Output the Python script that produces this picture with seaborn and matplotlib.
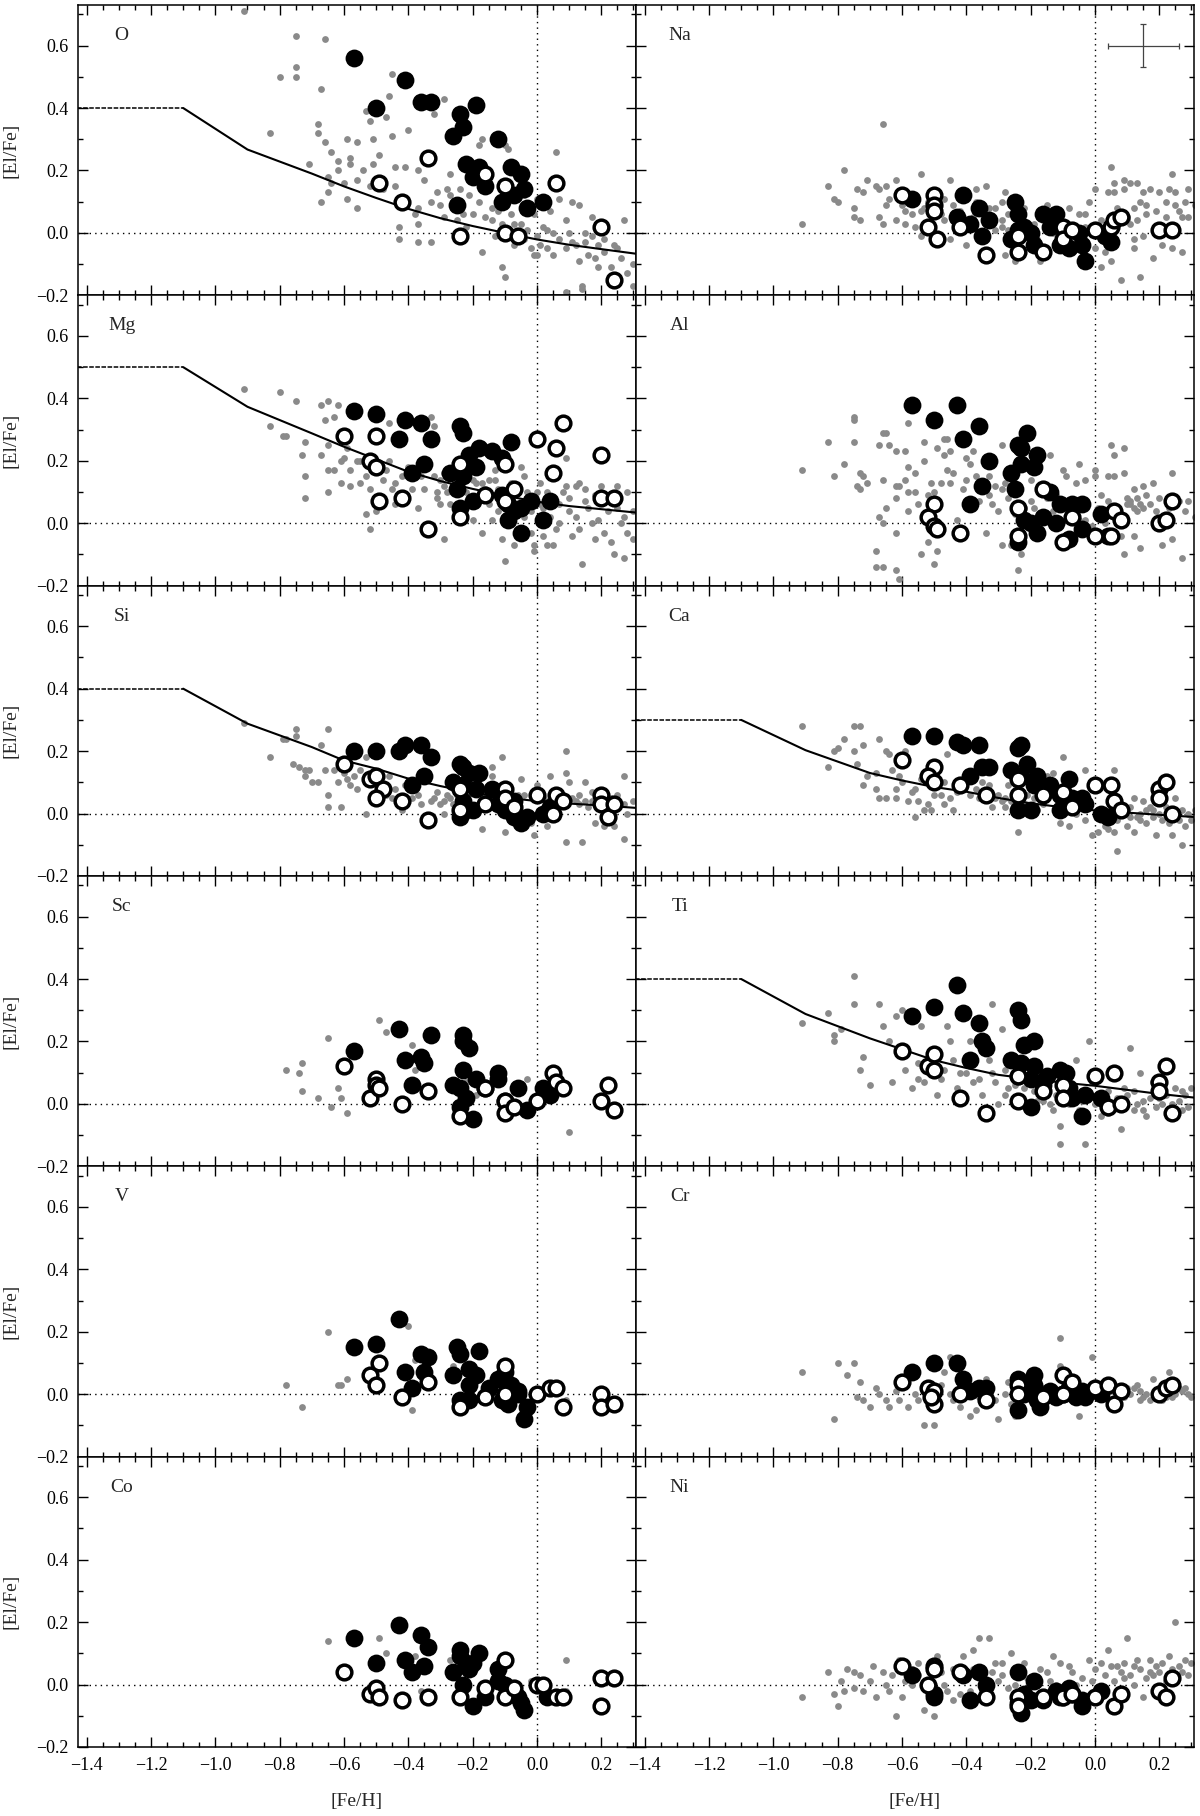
import matplotlib

matplotlib.use("Agg")

import matplotlib.pyplot as plt
import pandas as pd
import seaborn as sns
from matplotlib.ticker import FuncFormatter, MultipleLocator


# model curves (flat plateau up to [Fe/H] = -1.1, then declining)
MODEL_FEH = [-1.43, -1.1, -0.9, -0.7, -0.6, -0.5, -0.4, -0.3, -0.2, -0.1, 0.0, 0.1, 0.2, 0.31]
MODEL_O = [0.40, 0.40, 0.267, 0.19, 0.149, 0.112, 0.077, 0.047, 0.022, 0.0, -0.021, -0.038, -0.052, -0.067]
MODEL_MG = [0.50, 0.50, 0.373, 0.288, 0.245, 0.205, 0.165, 0.135, 0.11, 0.088, 0.069, 0.055, 0.045, 0.034]
MODEL_SI = [0.40, 0.40, 0.288, 0.213, 0.17, 0.144, 0.112, 0.088, 0.067, 0.051, 0.04, 0.032, 0.026, 0.018]
MODEL_CA = [0.30, 0.30, 0.203, 0.13, 0.106, 0.085, 0.07, 0.05, 0.033, 0.02, 0.01, 0.003, -0.004, -0.011]
MODEL_TI = [0.40, 0.40, 0.288, 0.21, 0.175, 0.14, 0.115, 0.093, 0.08, 0.068, 0.058, 0.045, 0.032, 0.02]

# typical error bar shown in the Na panel
ERR_FEH = 0.15
ERR_EL = 0.60
ERR_DFEH = 0.11
ERR_DEL = 0.07

# ---------------- O ----------------
O_FILLED = [(-0.57, 0.56), (-0.41, 0.49), (-0.50, 0.40), (-0.36, 0.42), (-0.33, 0.42), (-0.19, 0.41),
            (-0.24, 0.38), (-0.23, 0.34), (-0.26, 0.31), (-0.12, 0.30), (-0.22, 0.22), (-0.18, 0.21),
            (-0.20, 0.18), (-0.16, 0.15), (-0.08, 0.21), (-0.05, 0.19), (-0.04, 0.14), (-0.07, 0.12),
            (-0.11, 0.10), (-0.25, 0.09), (-0.03, 0.08), (0.02, 0.10)]
O_OPEN = [(-0.34, 0.24), (-0.49, 0.16), (-0.42, 0.10), (-0.16, 0.19), (-0.10, 0.15), (0.06, 0.16),
          (-0.24, -0.01), (-0.10, 0.00), (-0.06, -0.01), (0.20, 0.02), (0.24, -0.15)]
O_REF = [(-0.91, 0.71), (-0.75, 0.63), (-0.75, 0.53), (-0.75, 0.50), (-0.80, 0.50), (-0.66, 0.62),
         (-0.67, 0.46), (-0.83, 0.32), (-0.68, 0.35), (-0.68, 0.32), (-0.66, 0.29), (-0.71, 0.22),
         (-0.64, 0.26), (-0.62, 0.23), (-0.62, 0.20), (-0.58, 0.24), (-0.58, 0.22), (-0.59, 0.30),
         (-0.56, 0.29), (-0.51, 0.30), (-0.53, 0.39), (-0.52, 0.36), (-0.47, 0.37), (-0.46, 0.44),
         (-0.45, 0.51), (-0.40, 0.33), (-0.45, 0.31), (-0.49, 0.25), (-0.51, 0.22), (-0.54, 0.20),
         (-0.56, 0.17), (-0.60, 0.16), (-0.64, 0.16), (-0.65, 0.18), (-0.67, 0.10), (-0.65, 0.13),
         (-0.59, 0.11), (-0.56, 0.08), (-0.52, 0.15), (-0.48, 0.14), (-0.44, 0.15), (-0.44, 0.21),
         (-0.41, 0.21), (-0.37, 0.20), (-0.35, 0.17), (-0.37, 0.08), (-0.38, 0.06), (-0.37, 0.03),
         (-0.43, 0.02), (-0.43, -0.02), (-0.37, -0.03), (-0.33, -0.03), (-0.32, 0.38), (-0.29, 0.43),
         (-0.31, 0.13), (-0.30, 0.09), (-0.28, 0.14), (-0.27, 0.19), (-0.27, 0.12), (-0.25, 0.04),
         (-0.24, 0.14), (-0.23, 0.06), (-0.21, 0.12), (-0.20, 0.06), (-0.18, 0.10), (-0.18, 0.28),
         (-0.17, 0.30), (-0.14, 0.08), (-0.14, 0.04), (-0.13, -0.01), (-0.11, 0.03), (-0.10, 0.28),
         (-0.09, 0.27), (-0.07, 0.03), (-0.07, -0.04), (-0.05, 0.16), (-0.04, -0.02), (-0.03, 0.01),
         (-0.02, -0.05), (-0.01, -0.07), (0.00, -0.01), (0.00, -0.07), (0.01, -0.04), (0.02, 0.02),
         (0.03, -0.05), (0.04, 0.07), (0.05, -0.07), (0.05, 0.00), (0.06, 0.26), (0.07, 0.11),
         (0.09, 0.04), (0.09, -0.05), (0.10, 0.00), (0.11, 0.10), (0.12, -0.04), (0.13, 0.09),
         (0.13, -0.09), (0.14, -0.17), (0.15, -0.03), (0.16, -0.07), (0.17, 0.05), (0.17, -0.01),
         (0.19, -0.11), (0.19, -0.04), (0.21, -0.06), (0.23, -0.11), (0.24, -0.04), (0.25, -0.05),
         (0.27, 0.04), (0.28, -0.13), (0.30, -0.10), (0.30, -0.17), (-0.11, -0.11), (-0.10, -0.14),
         (-0.17, -0.06), (-0.01, 0.06), (0.00, 0.11), (-0.02, 0.07), (-0.04, 0.12), (0.09, -0.19),
         (0.14, -0.18), (-0.26, 0.08), (-0.22, 0.02), (-0.16, 0.05), (-0.12, 0.07), (-0.08, 0.06),
         (-0.05, 0.03), (0.03, 0.01), (0.07, -0.02), (0.11, -0.03), (0.15, 0.00), (0.18, -0.08),
         (0.21, -0.02), (0.26, -0.08), (-0.33, 0.10), (-0.29, 0.05)]

# ---------------- Na ----------------
NA_FILLED = [(-0.57, 0.11), (-0.41, 0.12), (-0.43, 0.05), (-0.39, 0.03), (-0.36, 0.08), (-0.33, 0.04),
             (-0.35, -0.01), (-0.25, 0.10), (-0.24, 0.06), (-0.26, -0.02), (-0.22, 0.02), (-0.20, 0.00),
             (-0.19, -0.04), (-0.16, 0.06), (-0.12, 0.06), (-0.14, 0.02), (-0.11, -0.04), (-0.08, -0.05),
             (-0.05, 0.00), (-0.04, -0.04), (-0.03, -0.09), (0.03, -0.01), (0.05, -0.03), (-0.24, 0.01)]
NA_OPEN = [(-0.60, 0.12), (-0.50, 0.12), (-0.50, 0.09), (-0.50, 0.07), (-0.52, 0.02), (-0.49, -0.02),
           (-0.42, 0.02), (-0.34, -0.07), (-0.24, -0.01), (-0.24, -0.06), (-0.16, -0.06), (-0.10, 0.02),
           (-0.10, -0.02), (-0.07, 0.01), (0.00, 0.01), (0.05, 0.02), (0.06, 0.04), (0.08, 0.05),
           (0.20, 0.01), (0.24, 0.01)]
NA_REF = [(-0.66, 0.35), (-0.91, 0.03), (-0.83, 0.15), (-0.81, 0.11), (-0.80, 0.10), (-0.78, 0.20),
          (-0.75, 0.08), (-0.75, 0.05), (-0.74, 0.14), (-0.72, 0.13), (-0.73, 0.04), (-0.71, 0.17),
          (-0.68, 0.15), (-0.67, 0.14), (-0.65, 0.15), (-0.67, 0.05), (-0.66, 0.03), (-0.65, 0.09),
          (-0.62, 0.17), (-0.62, 0.04), (-0.59, 0.07), (-0.59, 0.03), (-0.56, 0.02), (-0.54, 0.19),
          (-0.54, 0.07), (-0.54, -0.01), (-0.53, 0.08), (-0.47, 0.11), (-0.47, 0.04), (-0.45, 0.17),
          (-0.45, -0.02), (-0.44, 0.09), (-0.40, -0.04), (-0.37, 0.14), (-0.34, 0.15), (-0.37, 0.10),
          (-0.31, 0.08), (-0.31, 0.01), (-0.29, 0.10), (-0.29, 0.04), (-0.28, 0.13), (-0.28, -0.07),
          (-0.25, -0.09), (-0.22, 0.08), (-0.18, -0.02), (-0.17, -0.09), (-0.15, 0.09), (-0.13, 0.00),
          (-0.10, -0.04), (-0.08, 0.08), (-0.06, 0.01), (-0.05, 0.06), (-0.03, 0.06), (-0.02, 0.10),
          (-0.01, 0.00), (0.00, 0.14), (0.00, -0.05), (0.02, -0.11), (0.03, -0.06), (0.04, 0.13),
          (0.05, 0.21), (0.05, -0.09), (0.06, 0.16), (0.06, 0.13), (0.08, -0.15), (0.09, 0.17),
          (0.09, 0.14), (0.10, 0.05), (0.11, 0.16), (0.12, -0.02), (0.12, -0.05), (0.13, 0.16),
          (0.14, -0.14), (0.14, 0.10), (0.15, 0.13), (0.15, -0.01), (0.16, 0.06), (0.17, 0.14),
          (0.18, -0.08), (0.20, 0.13), (0.21, -0.04), (0.22, 0.10), (0.23, 0.14), (0.24, 0.19),
          (0.24, -0.05), (0.25, 0.09), (0.25, 0.13), (0.27, -0.06), (0.27, 0.05), (0.28, 0.10),
          (0.29, 0.14), (0.31, 0.09), (-0.32, 0.05), (-0.29, 0.02), (-0.27, 0.01), (-0.32, 0.03),
          (0.09, 0.06), (0.10, 0.04), (0.11, 0.03), (0.13, 0.04), (-0.64, 0.11), (-0.60, 0.09),
          (-0.57, 0.06), (-0.52, 0.10), (-0.48, 0.06), (-0.42, 0.07), (-0.38, 0.05), (-0.33, 0.08),
          (-0.27, 0.06), (-0.23, 0.04), (-0.19, 0.03), (-0.15, 0.02), (-0.12, 0.03), (-0.08, 0.02),
          (-0.03, 0.02), (0.02, 0.04), (0.07, 0.08), (0.12, 0.08), (0.16, 0.09), (0.19, 0.07),
          (0.22, 0.05), (0.26, 0.07), (0.29, 0.05)]

# ---------------- Mg ----------------
MG_FILLED = [(-0.57, 0.36), (-0.50, 0.35), (-0.41, 0.33), (-0.36, 0.32), (-0.43, 0.27), (-0.33, 0.27),
             (-0.35, 0.19), (-0.39, 0.16), (-0.24, 0.31), (-0.23, 0.29), (-0.21, 0.22), (-0.18, 0.24),
             (-0.14, 0.23), (-0.11, 0.21), (-0.19, 0.18), (-0.27, 0.16), (-0.23, 0.15), (-0.25, 0.11),
             (-0.24, 0.05), (-0.20, 0.07), (-0.08, 0.26), (-0.11, 0.09), (-0.09, 0.06), (-0.09, 0.01),
             (-0.05, 0.05), (-0.02, 0.07), (-0.05, -0.03), (0.02, 0.01), (0.04, 0.07), (-0.07, 0.04)]
MG_OPEN = [(-0.60, 0.28), (-0.50, 0.28), (-0.52, 0.20), (-0.50, 0.18), (-0.49, 0.07), (-0.42, 0.08),
           (-0.34, -0.02), (-0.24, 0.19), (-0.24, 0.02), (-0.16, 0.09), (-0.10, 0.19), (-0.10, 0.07),
           (-0.07, 0.11), (0.00, 0.27), (0.06, 0.24), (0.08, 0.32), (0.05, 0.16), (0.20, 0.22),
           (0.20, 0.08), (0.24, 0.08)]
MG_REF = [(-0.91, 0.43), (-0.80, 0.42), (-0.83, 0.31), (-0.79, 0.28), (-0.78, 0.28), (-0.75, 0.39),
          (-0.72, 0.26), (-0.73, 0.22), (-0.72, 0.15), (-0.72, 0.08), (-0.67, 0.38), (-0.65, 0.39),
          (-0.62, 0.38), (-0.63, 0.34), (-0.66, 0.33), (-0.67, 0.22), (-0.65, 0.25), (-0.65, 0.17),
          (-0.65, 0.10), (-0.61, 0.13), (-0.61, 0.20), (-0.59, 0.24), (-0.58, 0.17), (-0.58, 0.12),
          (-0.56, 0.20), (-0.55, 0.13), (-0.53, 0.15), (-0.53, 0.03), (-0.52, -0.02), (-0.50, 0.04),
          (-0.48, 0.14), (-0.46, 0.32), (-0.46, 0.20), (-0.45, 0.11), (-0.44, 0.06), (-0.42, 0.15),
          (-0.39, 0.11), (-0.37, 0.05), (-0.36, 0.15), (-0.35, 0.11), (-0.33, 0.34), (-0.32, 0.15),
          (-0.32, 0.31), (-0.31, 0.08), (-0.29, 0.16), (-0.29, -0.05), (-0.28, 0.10), (-0.27, 0.06),
          (-0.20, 0.14), (-0.20, 0.01), (-0.17, 0.13), (-0.17, -0.03), (-0.14, 0.01), (-0.13, 0.14),
          (-0.13, 0.17), (-0.11, -0.05), (-0.10, -0.12), (-0.07, -0.07), (-0.05, 0.18), (-0.04, 0.15),
          (-0.04, 0.02), (-0.02, -0.03), (-0.01, -0.07), (-0.01, -0.09), (0.00, 0.10), (0.01, 0.13),
          (0.02, -0.04), (0.03, -0.07), (0.05, -0.07), (0.07, 0.00), (0.08, 0.10), (0.09, 0.21),
          (0.09, 0.12), (0.10, 0.04), (0.11, -0.04), (0.12, 0.02), (0.13, 0.13), (0.13, -0.02),
          (0.14, -0.13), (0.15, 0.11), (0.16, 0.05), (0.17, 0.00), (0.18, -0.05), (0.19, 0.01),
          (0.21, -0.03), (0.22, 0.04), (0.23, -0.06), (0.24, -0.10), (0.25, 0.12), (0.26, 0.00),
          (0.27, -0.11), (0.28, 0.10), (0.28, -0.03), (0.30, -0.05), (0.30, 0.04), (-0.30, 0.14),
          (-0.29, 0.12), (-0.27, 0.15), (-0.16, 0.11), (-0.15, 0.06), (-0.12, 0.04), (0.02, 0.05),
          (0.04, 0.02), (0.06, -0.02), (-0.31, 0.10), (-0.30, 0.06), (-0.26, 0.12), (-0.22, 0.10),
          (-0.19, 0.13), (-0.17, 0.08), (-0.15, 0.14), (-0.12, 0.11), (-0.08, 0.13), (-0.06, 0.10),
          (-0.03, 0.10), (-0.02, 0.04), (0.01, 0.06), (0.03, 0.10), (0.07, 0.06), (0.10, 0.08),
          (0.12, 0.12), (0.15, 0.07), (0.18, 0.09), (0.20, 0.12), (0.22, 0.09), (0.25, 0.05),
          (0.27, 0.02), (-0.44, 0.13), (-0.40, 0.18), (-0.47, 0.17), (-0.55, 0.20), (-0.60, 0.21),
          (-0.63, 0.17), (-0.52, 0.11), (-0.48, 0.08)]

# ---------------- Al ----------------
AL_FILLED = [(-0.57, 0.38), (-0.43, 0.38), (-0.50, 0.33), (-0.36, 0.31), (-0.41, 0.27), (-0.21, 0.29),
             (-0.24, 0.25), (-0.23, 0.24), (-0.18, 0.22), (-0.33, 0.20), (-0.23, 0.19), (-0.19, 0.18),
             (-0.26, 0.16), (-0.35, 0.12), (-0.25, 0.11), (-0.39, 0.06), (-0.14, 0.10), (-0.11, 0.06),
             (-0.07, 0.06), (-0.04, 0.06), (-0.16, 0.02), (-0.22, 0.01), (-0.20, 0.00), (-0.12, 0.00),
             (-0.18, -0.03), (-0.04, -0.02), (-0.24, -0.06), (-0.08, -0.05), (0.02, 0.03), (0.04, -0.04)]
AL_OPEN = [(-0.50, 0.06), (-0.52, 0.02), (-0.50, -0.01), (-0.49, -0.02), (-0.42, -0.03), (-0.24, 0.05),
           (-0.24, -0.04), (-0.16, 0.11), (-0.07, 0.02), (-0.10, -0.06), (0.00, -0.04), (0.05, -0.04),
           (0.06, 0.04), (0.08, 0.01), (0.20, 0.00), (0.22, 0.01), (0.24, 0.07)]
AL_REF = [(-0.91, 0.17), (-0.83, 0.26), (-0.81, 0.15), (-0.78, 0.19), (-0.75, 0.34), (-0.75, 0.33),
          (-0.75, 0.26), (-0.74, 0.12), (-0.73, 0.16), (-0.72, 0.15), (-0.71, 0.13), (-0.73, 0.11),
          (-0.68, -0.09), (-0.68, -0.14), (-0.66, -0.14), (-0.67, 0.02), (-0.67, 0.25), (-0.66, 0.29),
          (-0.65, 0.29), (-0.64, 0.25), (-0.66, 0.14), (-0.65, 0.05), (-0.66, 0.00), (-0.62, 0.23),
          (-0.62, 0.12), (-0.62, 0.08), (-0.61, 0.12), (-0.62, -0.03), (-0.62, -0.15), (-0.61, -0.18),
          (-0.59, 0.23), (-0.58, 0.32), (-0.58, 0.18), (-0.59, 0.14), (-0.58, 0.10), (-0.56, 0.10),
          (-0.56, 0.16), (-0.54, -0.10), (-0.53, 0.20), (-0.53, 0.26), (-0.52, -0.06), (-0.51, 0.13),
          (-0.50, 0.10), (-0.50, -0.13), (-0.49, -0.09), (-0.49, 0.24), (-0.48, 0.13), (-0.47, 0.27),
          (-0.47, 0.22), (-0.46, 0.27), (-0.46, 0.17), (-0.45, 0.13), (-0.45, 0.23), (-0.43, 0.01),
          (-0.41, 0.11), (-0.40, 0.21), (-0.39, 0.19), (-0.38, 0.23), (-0.37, 0.15), (-0.36, 0.07),
          (-0.34, -0.03), (-0.33, 0.15), (-0.32, 0.06), (-0.30, 0.04), (-0.29, 0.25), (-0.29, 0.11),
          (-0.29, -0.07), (-0.28, 0.13), (-0.26, -0.07), (-0.24, -0.15), (-0.23, -0.10), (-0.22, 0.05),
          (-0.20, 0.14), (-0.20, 0.07), (-0.17, 0.03), (-0.14, 0.22), (-0.13, 0.04), (-0.10, 0.17),
          (-0.09, 0.15), (-0.06, 0.13), (-0.05, 0.19), (-0.04, 0.00), (-0.03, 0.14), (-0.02, -0.02),
          (0.00, 0.17), (0.00, 0.15), (0.02, 0.09), (0.03, 0.00), (0.04, 0.15), (0.05, 0.25),
          (0.06, 0.22), (0.06, 0.15), (0.08, 0.00), (0.08, -0.04), (0.09, 0.24), (0.09, 0.16),
          (0.09, -0.10), (0.10, 0.08), (0.11, 0.06), (0.12, 0.11), (0.12, -0.04), (0.13, 0.04),
          (0.14, -0.08), (0.15, 0.12), (0.16, 0.09), (0.18, 0.13), (0.19, 0.04), (0.21, -0.07),
          (0.22, 0.00), (0.24, 0.16), (0.24, -0.05), (0.26, 0.07), (0.27, -0.11), (0.29, 0.07),
          (0.31, 0.02), (0.10, 0.06), (0.11, 0.07), (0.12, 0.05), (0.14, 0.06), (0.15, 0.05),
          (-0.05, 0.01), (-0.03, 0.01), (-0.01, -0.01), (-0.44, 0.16), (-0.40, 0.14), (-0.36, 0.11),
          (-0.33, 0.09), (-0.31, 0.12), (-0.27, 0.08), (-0.25, 0.03), (-0.19, 0.05), (-0.15, 0.08),
          (-0.12, 0.09), (-0.08, 0.03), (0.01, 0.05), (0.04, 0.07), (0.07, 0.05), (0.13, 0.08),
          (0.17, 0.06), (0.20, 0.08), (0.23, 0.05), (0.28, 0.04), (-0.55, 0.06), (-0.52, 0.09),
          (-0.58, 0.04)]

# ---------------- Si ----------------
SI_FILLED = [(-0.57, 0.20), (-0.50, 0.20), (-0.43, 0.20), (-0.41, 0.22), (-0.36, 0.22), (-0.33, 0.18),
             (-0.35, 0.12), (-0.39, 0.09), (-0.24, 0.16), (-0.23, 0.15), (-0.21, 0.13), (-0.18, 0.13),
             (-0.26, 0.10), (-0.23, 0.09), (-0.19, 0.08), (-0.14, 0.08), (-0.23, 0.04), (-0.24, -0.01),
             (-0.20, 0.01), (-0.12, 0.03), (-0.10, 0.01), (-0.07, 0.04), (-0.07, -0.01), (-0.05, -0.03),
             (-0.03, -0.01), (0.02, 0.00), (0.04, 0.02), (-0.22, 0.01)]
SI_OPEN = [(-0.60, 0.16), (-0.52, 0.11), (-0.50, 0.12), (-0.48, 0.08), (-0.50, 0.05), (-0.42, 0.04),
           (-0.34, -0.02), (-0.24, 0.08), (-0.24, 0.01), (-0.16, 0.03), (-0.10, 0.08), (-0.10, 0.05),
           (-0.07, 0.02), (0.00, 0.06), (0.06, 0.06), (0.08, 0.04), (0.05, 0.00), (0.20, 0.06),
           (0.20, 0.03), (0.22, -0.01), (0.24, 0.03)]
SI_REF = [(-0.91, 0.29), (-0.83, 0.18), (-0.79, 0.24), (-0.78, 0.24), (-0.75, 0.27), (-0.75, 0.25),
          (-0.74, 0.15), (-0.72, 0.14), (-0.72, 0.12), (-0.71, 0.14), (-0.68, 0.10), (-0.67, 0.22),
          (-0.66, 0.14), (-0.65, 0.27), (-0.65, 0.06), (-0.65, 0.02), (-0.63, 0.14), (-0.62, 0.10),
          (-0.61, 0.02), (-0.59, 0.11), (-0.58, 0.09), (-0.56, 0.08), (-0.55, 0.14), (-0.53, 0.18),
          (-0.53, 0.00), (-0.49, 0.21), (-0.47, 0.06), (-0.46, 0.12), (-0.44, 0.08), (-0.42, 0.01),
          (-0.39, 0.05), (-0.37, 0.06), (-0.34, 0.11), (-0.33, 0.04), (-0.31, 0.07), (-0.29, 0.04),
          (-0.29, 0.00), (-0.28, 0.06), (-0.17, -0.05), (-0.14, 0.15), (-0.14, 0.12), (-0.11, 0.18),
          (-0.10, -0.06), (-0.05, 0.11), (-0.04, 0.06), (-0.04, 0.00), (-0.02, -0.03), (-0.01, -0.07),
          (0.00, 0.09), (0.01, 0.00), (0.03, -0.04), (0.04, 0.12), (0.05, 0.07), (0.09, 0.20),
          (0.09, 0.13), (0.10, 0.10), (0.12, 0.04), (0.13, 0.06), (0.14, -0.09), (0.15, 0.10),
          (0.16, 0.02), (0.17, 0.04), (0.18, -0.03), (0.21, -0.04), (0.24, -0.04), (0.27, 0.12),
          (0.27, -0.08), (0.28, 0.00), (0.30, 0.04), (0.09, -0.09), (-0.32, 0.05), (-0.30, 0.03),
          (-0.27, 0.05), (-0.26, 0.03), (0.03, 0.04), (0.11, 0.05), (0.13, 0.03), (0.19, 0.06),
          (0.23, 0.05), (-0.50, 0.10), (-0.45, 0.05), (-0.41, 0.09), (-0.36, 0.03), (-0.25, 0.06),
          (-0.22, 0.04), (-0.19, 0.02), (-0.16, 0.06), (-0.13, 0.02), (-0.08, 0.03), (-0.06, 0.06),
          (0.02, 0.05), (0.06, 0.02), (0.08, 0.06), (0.15, 0.04), (0.17, 0.07), (0.20, 0.02),
          (0.25, 0.06), (0.27, 0.03), (-0.60, 0.13), (-0.57, 0.12), (-0.70, 0.10), (-0.76, 0.16)]

# ---------------- Ca ----------------
CA_FILLED = [(-0.57, 0.25), (-0.50, 0.25), (-0.43, 0.23), (-0.41, 0.22), (-0.36, 0.22), (-0.24, 0.21),
             (-0.23, 0.22), (-0.35, 0.15), (-0.33, 0.15), (-0.39, 0.12), (-0.26, 0.14), (-0.21, 0.16),
             (-0.23, 0.12), (-0.18, 0.12), (-0.19, 0.09), (-0.14, 0.09), (-0.08, 0.11), (-0.11, 0.06),
             (-0.04, 0.05), (-0.03, 0.03), (-0.24, 0.01), (-0.20, 0.01), (-0.11, 0.01), (0.02, 0.00),
             (0.04, -0.01), (-0.07, 0.05)]
CA_OPEN = [(-0.60, 0.17), (-0.50, 0.15), (-0.52, 0.12), (-0.50, 0.10), (-0.42, 0.09), (-0.34, 0.06),
           (-0.24, 0.11), (-0.24, 0.06), (-0.16, 0.06), (-0.10, 0.07), (-0.07, 0.02), (0.00, 0.09),
           (0.05, 0.09), (0.06, 0.04), (0.08, 0.01), (0.20, 0.08), (0.20, 0.05), (0.22, 0.10),
           (0.24, 0.00)]
CA_REF = [(-0.91, 0.28), (-0.83, 0.15), (-0.81, 0.20), (-0.80, 0.21), (-0.78, 0.24), (-0.75, 0.28),
          (-0.73, 0.28), (-0.75, 0.20), (-0.74, 0.16), (-0.72, 0.22), (-0.72, 0.09), (-0.71, 0.12),
          (-0.68, 0.13), (-0.68, 0.08), (-0.67, 0.24), (-0.67, 0.05), (-0.65, 0.05), (-0.65, 0.20),
          (-0.64, 0.19), (-0.63, 0.14), (-0.62, 0.05), (-0.62, 0.08), (-0.61, 0.12), (-0.59, 0.20),
          (-0.58, 0.04), (-0.56, 0.08), (-0.56, -0.01), (-0.55, 0.04), (-0.54, 0.11), (-0.53, 0.01),
          (-0.52, 0.03), (-0.51, 0.01), (-0.48, 0.06), (-0.47, 0.10), (-0.46, 0.19), (-0.45, 0.05),
          (-0.44, 0.01), (-0.41, 0.09), (-0.39, 0.06), (-0.37, 0.08), (-0.35, 0.10), (-0.33, 0.09),
          (-0.32, 0.02), (-0.30, 0.06), (-0.29, 0.04), (-0.28, 0.02), (-0.27, 0.09), (-0.24, -0.06),
          (-0.21, 0.06), (-0.18, 0.01), (-0.15, 0.12), (-0.13, 0.13), (-0.10, 0.18), (-0.11, -0.03),
          (-0.08, -0.04), (-0.06, 0.00), (-0.03, 0.14), (-0.03, -0.02), (-0.01, -0.07), (0.01, -0.06),
          (0.03, -0.04), (0.04, -0.05), (0.06, 0.14), (0.06, -0.06), (0.07, -0.12), (0.09, 0.00),
          (0.10, -0.04), (0.11, 0.02), (0.12, -0.06), (0.12, 0.05), (0.14, 0.00), (0.14, -0.02),
          (0.15, 0.04), (0.17, 0.02), (0.18, -0.01), (0.19, -0.07), (0.21, -0.02), (0.22, 0.02),
          (0.24, -0.07), (0.25, 0.05), (0.26, -0.02), (0.27, -0.10), (0.28, -0.04), (0.29, 0.00),
          (0.31, 0.01), (0.08, 0.02), (0.10, 0.01), (0.13, -0.01), (0.16, 0.01), (0.18, 0.01),
          (-0.31, 0.05), (-0.28, 0.05), (-0.26, 0.04), (-0.25, 0.03), (-0.60, 0.10), (-0.57, 0.07),
          (-0.50, 0.06), (-0.47, 0.03), (-0.43, 0.07), (-0.36, 0.05), (-0.34, 0.07), (-0.22, 0.03),
          (-0.19, 0.05), (-0.16, 0.03), (-0.13, 0.06), (-0.09, 0.02), (-0.05, 0.03), (0.02, 0.01),
          (0.05, 0.02), (0.07, -0.02), (0.11, -0.01), (0.16, -0.03), (0.20, 0.00), (0.23, -0.03),
          (0.27, 0.01), (0.30, -0.02)]

# ---------------- Sc ----------------
SC_FILLED = [(-0.57, 0.17), (-0.43, 0.24), (-0.41, 0.14), (-0.36, 0.15), (-0.35, 0.13), (-0.39, 0.06),
             (-0.33, 0.22), (-0.23, 0.22), (-0.23, 0.20), (-0.21, 0.18), (-0.23, 0.11), (-0.26, 0.06),
             (-0.24, 0.05), (-0.22, 0.02), (-0.24, -0.01), (-0.20, -0.05), (-0.19, 0.08), (-0.16, 0.05),
             (-0.12, 0.10), (-0.12, 0.08), (-0.06, 0.05), (-0.03, -0.02), (0.02, 0.05), (0.04, 0.03),
             (-0.10, 0.01)]
SC_OPEN = [(-0.60, 0.12), (-0.52, 0.02), (-0.50, 0.08), (-0.50, 0.06), (-0.49, 0.05), (-0.42, 0.00),
           (-0.34, 0.04), (-0.24, -0.04), (-0.16, 0.05), (-0.10, 0.01), (-0.10, -0.03), (-0.07, -0.01),
           (0.00, 0.01), (0.05, 0.10), (0.06, 0.07), (0.08, 0.05), (0.20, 0.01), (0.22, 0.06),
           (0.24, -0.02)]
SC_REF = [(-0.78, 0.11), (-0.74, 0.10), (-0.73, 0.13), (-0.73, 0.04), (-0.68, 0.02), (-0.65, 0.21),
          (-0.64, -0.01), (-0.62, 0.05), (-0.61, 0.02), (-0.59, -0.03), (-0.49, 0.27), (-0.47, 0.23),
          (-0.39, 0.19), (-0.38, 0.11), (-0.35, 0.05), (-0.03, 0.08), (0.10, -0.09), (-0.22, 0.07),
          (-0.19, 0.03)]

# ---------------- Ti ----------------
TI_FILLED = [(-0.57, 0.28), (-0.50, 0.31), (-0.43, 0.38), (-0.41, 0.29), (-0.36, 0.26), (-0.39, 0.14),
             (-0.35, 0.20), (-0.34, 0.18), (-0.24, 0.30), (-0.23, 0.27), (-0.19, 0.20), (-0.22, 0.19),
             (-0.26, 0.14), (-0.23, 0.13), (-0.19, 0.12), (-0.24, 0.09), (-0.20, 0.08), (-0.15, 0.09),
             (-0.11, 0.11), (-0.09, 0.10), (-0.16, 0.06), (-0.08, 0.05), (-0.20, -0.01), (-0.07, 0.02),
             (-0.04, -0.04), (-0.03, 0.03), (0.02, 0.02)]
TI_OPEN = [(-0.60, 0.17), (-0.52, 0.12), (-0.50, 0.16), (-0.50, 0.11), (-0.42, 0.02), (-0.34, -0.03),
           (-0.24, 0.09), (-0.24, 0.01), (-0.16, 0.04), (-0.10, 0.06), (-0.10, 0.02), (0.00, 0.09),
           (0.04, -0.01), (0.06, 0.10), (0.08, 0.00), (0.20, 0.07), (0.20, 0.04), (0.22, 0.12),
           (0.24, -0.03)]
TI_REF = [(-0.91, 0.26), (-0.83, 0.29), (-0.81, 0.22), (-0.81, 0.20), (-0.79, 0.24), (-0.75, 0.41),
          (-0.75, 0.32), (-0.73, 0.11), (-0.72, 0.15), (-0.70, 0.06), (-0.67, 0.32), (-0.66, 0.25),
          (-0.64, 0.20), (-0.63, 0.07), (-0.62, 0.28), (-0.60, 0.30), (-0.59, 0.11), (-0.57, 0.05),
          (-0.55, 0.13), (-0.54, 0.25), (-0.53, 0.07), (-0.49, 0.03), (-0.47, 0.11), (-0.46, 0.25),
          (-0.45, 0.20), (-0.43, 0.05), (-0.42, 0.10), (-0.39, 0.20), (-0.38, 0.07), (-0.35, 0.03),
          (-0.33, 0.14), (-0.32, 0.32), (-0.31, 0.07), (-0.30, 0.00), (-0.29, 0.24), (-0.28, 0.11),
          (-0.27, 0.05), (-0.24, 0.00), (-0.22, 0.05), (-0.18, 0.01), (-0.17, 0.08), (-0.14, 0.00),
          (-0.12, 0.03), (-0.11, -0.07), (-0.11, -0.13), (-0.08, 0.00), (-0.06, 0.14), (-0.05, -0.02),
          (-0.03, -0.13), (-0.02, 0.20), (-0.01, 0.07), (0.00, 0.00), (0.02, -0.04), (0.04, 0.04),
          (0.06, 0.00), (0.08, -0.08), (0.09, 0.05), (0.11, 0.18), (0.12, -0.02), (0.14, 0.10),
          (0.15, 0.01), (0.16, -0.04), (0.18, 0.07), (0.21, 0.00), (0.24, 0.00), (0.25, 0.05),
          (0.27, -0.02), (0.30, 0.05), (0.03, 0.02), (0.05, -0.02), (0.07, 0.02), (0.10, 0.03),
          (0.13, 0.00), (0.17, 0.02), (0.19, -0.01), (0.22, 0.03), (0.26, 0.01), (0.28, 0.03),
          (-0.15, 0.03), (-0.13, -0.02), (-0.09, 0.06), (-0.06, 0.03), (-0.55, 0.08), (-0.52, 0.15),
          (-0.48, 0.08), (-0.44, 0.14), (-0.40, 0.10), (-0.36, 0.08), (-0.32, 0.10), (-0.28, 0.03),
          (-0.25, 0.06), (-0.19, 0.04), (-0.16, 0.01), (-0.10, 0.02), (-0.04, 0.01), (0.01, 0.03),
          (0.04, -0.03), (0.08, 0.01), (0.12, 0.04), (0.15, -0.02), (0.20, 0.02), (0.23, -0.02),
          (0.27, 0.04), (0.29, -0.01)]

# ---------------- V ----------------
V_FILLED = [(-0.57, 0.15), (-0.50, 0.16), (-0.43, 0.24), (-0.41, 0.07), (-0.39, 0.02), (-0.36, 0.13),
            (-0.34, 0.12), (-0.35, 0.07), (-0.26, 0.06), (-0.25, 0.15), (-0.24, 0.13), (-0.24, -0.02),
            (-0.18, 0.14), (-0.21, 0.08), (-0.21, 0.03), (-0.19, 0.06), (-0.21, -0.02), (-0.15, 0.02),
            (-0.12, 0.05), (-0.10, 0.07), (-0.09, -0.01), (-0.08, 0.03), (-0.06, 0.01), (-0.09, -0.03),
            (-0.06, 0.00), (-0.03, -0.04), (-0.04, -0.08), (-0.11, -0.02)]
V_OPEN = [(-0.52, 0.06), (-0.50, 0.03), (-0.49, 0.10), (-0.42, -0.01), (-0.34, 0.04), (-0.24, -0.04),
          (-0.16, -0.01), (-0.10, 0.09), (-0.10, 0.00), (0.00, 0.00), (0.04, 0.02), (0.06, 0.02),
          (0.08, -0.04), (0.20, 0.00), (0.20, -0.04), (0.24, -0.03)]
V_REF = [(-0.78, 0.03), (-0.73, -0.04), (-0.65, 0.20), (-0.62, 0.03), (-0.61, 0.03), (-0.59, 0.05),
         (-0.40, 0.22), (-0.39, -0.05), (-0.38, 0.11), (0.09, -0.02), (-0.26, 0.09)]

# ---------------- Cr ----------------
CR_FILLED = [(-0.57, 0.07), (-0.50, 0.10), (-0.43, 0.10), (-0.41, 0.05), (-0.39, 0.01), (-0.36, 0.02),
             (-0.34, 0.02), (-0.24, -0.05), (-0.24, 0.05), (-0.22, 0.00), (-0.19, 0.06), (-0.19, 0.03),
             (-0.18, -0.02), (-0.17, -0.04), (-0.14, 0.01), (-0.12, -0.01), (-0.10, 0.00), (-0.08, 0.02),
             (-0.06, -0.01), (-0.04, 0.01), (-0.03, -0.01), (0.02, 0.00)]
CR_OPEN = [(-0.60, 0.04), (-0.52, 0.02), (-0.50, 0.01), (-0.50, -0.03), (-0.51, -0.01), (-0.42, 0.00),
           (-0.34, -0.02), (-0.24, 0.03), (-0.24, 0.00), (-0.16, -0.01), (-0.10, 0.06), (-0.07, 0.04),
           (-0.10, 0.00), (0.00, 0.02), (0.04, 0.03), (0.06, -0.03), (0.08, 0.01), (0.20, 0.00),
           (0.22, 0.02), (0.24, 0.03)]
CR_REF = [(-0.91, 0.07), (-0.81, -0.08), (-0.80, 0.10), (-0.75, 0.10), (-0.77, 0.06), (-0.74, -0.01),
          (-0.73, 0.04), (-0.72, -0.02), (-0.70, -0.04), (-0.67, 0.00), (-0.64, -0.04), (-0.62, 0.01),
          (-0.61, -0.02), (-0.58, -0.04), (-0.56, 0.00), (-0.53, -0.10), (-0.50, -0.10), (-0.47, 0.07),
          (-0.45, 0.12), (-0.45, 0.00), (-0.42, -0.04), (-0.39, -0.07), (-0.37, -0.05), (-0.34, 0.05),
          (-0.31, -0.02), (-0.30, -0.08), (-0.27, 0.04), (-0.25, -0.07), (-0.23, 0.02), (-0.20, 0.00),
          (-0.17, 0.01), (-0.13, 0.00), (-0.11, 0.18), (-0.11, 0.09), (-0.07, -0.02), (-0.05, -0.07),
          (-0.02, 0.00), (-0.01, 0.12), (0.02, 0.00), (0.04, 0.04), (0.07, -0.02), (0.08, 0.01),
          (0.11, 0.00), (0.13, 0.03), (0.14, -0.02), (0.16, 0.00), (0.18, 0.05), (0.21, -0.02),
          (0.23, 0.07), (0.25, 0.00), (0.27, 0.01), (0.30, -0.01), (0.01, 0.01), (0.06, 0.02),
          (0.09, -0.01), (0.12, 0.02), (0.15, -0.01), (0.19, 0.01), (0.22, -0.01), (0.26, 0.02),
          (0.29, 0.00), (-0.19, -0.02), (-0.16, 0.02), (-0.12, -0.02), (-0.09, 0.02), (-0.68, 0.02),
          (-0.65, -0.02), (-0.60, 0.03), (-0.55, -0.02), (-0.48, 0.03), (-0.44, -0.02), (-0.40, 0.02),
          (-0.36, -0.01), (-0.33, 0.01), (-0.28, 0.00), (-0.26, -0.03), (-0.21, 0.02), (0.03, -0.01),
          (0.05, 0.01), (0.10, 0.02), (0.14, 0.01), (0.17, -0.02), (0.20, 0.02), (0.24, -0.01),
          (0.28, 0.02)]

# ---------------- Co ----------------
CO_FILLED = [(-0.57, 0.15), (-0.50, 0.07), (-0.43, 0.19), (-0.41, 0.08), (-0.39, 0.04), (-0.36, 0.16),
             (-0.34, 0.12), (-0.35, 0.06), (-0.24, 0.11), (-0.24, 0.09), (-0.26, 0.04), (-0.22, 0.07),
             (-0.21, 0.05), (-0.23, 0.00), (-0.18, 0.10), (-0.20, -0.07), (-0.20, 0.07), (-0.12, 0.05),
             (-0.12, 0.01), (-0.16, -0.04), (-0.10, 0.00), (-0.06, -0.04), (-0.04, -0.08), (-0.05, -0.06),
             (0.03, -0.04)]
CO_OPEN = [(-0.60, 0.04), (-0.52, -0.03), (-0.50, -0.01), (-0.49, -0.04), (-0.42, -0.05), (-0.34, -0.04),
           (-0.24, -0.04), (-0.16, -0.01), (-0.10, 0.08), (-0.10, -0.04), (-0.07, -0.01), (0.00, 0.00),
           (0.02, 0.00), (0.06, -0.04), (0.08, -0.04), (0.20, 0.02), (0.24, 0.02), (0.20, -0.07)]
CO_REF = [(-0.65, 0.14), (-0.49, 0.15), (-0.47, 0.10), (-0.38, 0.09), (-0.36, -0.02), (-0.27, 0.08),
          (-0.02, 0.01), (0.09, 0.08), (0.09, -0.02)]

# ---------------- Ni ----------------
NI_FILLED = [(-0.57, 0.03), (-0.50, -0.03), (-0.50, -0.04), (-0.41, 0.03), (-0.39, -0.05), (-0.36, 0.04),
             (-0.34, 0.00), (-0.24, 0.04), (-0.24, -0.06), (-0.23, -0.09), (-0.22, -0.03), (-0.19, 0.01),
             (-0.20, -0.05), (-0.16, -0.05), (-0.12, -0.02), (-0.11, -0.04), (-0.08, -0.01), (-0.07, -0.03),
             (-0.04, -0.05), (-0.04, -0.07), (0.02, -0.02)]
NI_OPEN = [(-0.60, 0.06), (-0.52, 0.00), (-0.50, 0.06), (-0.50, 0.05), (-0.42, 0.04), (-0.34, -0.04),
           (-0.24, -0.04), (-0.24, -0.07), (-0.16, -0.04), (-0.10, -0.04), (-0.07, -0.03), (0.00, -0.04),
           (0.06, -0.07), (0.08, -0.03), (0.20, -0.02), (0.22, -0.04), (0.24, 0.02)]
NI_REF = [(-0.91, -0.04), (-0.83, 0.04), (-0.81, -0.03), (-0.80, -0.07), (-0.79, 0.01), (-0.77, 0.05),
          (-0.75, -0.01), (-0.75, 0.04), (-0.72, -0.02), (-0.70, 0.01), (-0.68, -0.04), (-0.66, 0.04),
          (-0.64, -0.02), (-0.62, -0.10), (-0.61, 0.08), (-0.59, 0.01), (-0.57, 0.00), (-0.55, 0.07),
          (-0.53, -0.08), (-0.50, -0.10), (-0.49, 0.09), (-0.47, 0.00), (-0.44, 0.05), (-0.42, -0.03),
          (-0.41, 0.09), (-0.39, -0.02), (-0.38, 0.11), (-0.36, 0.15), (-0.33, 0.15), (-0.31, 0.07),
          (-0.30, 0.01), (-0.29, 0.07), (-0.27, -0.01), (-0.26, 0.10), (-0.22, 0.07), (-0.19, -0.04),
          (-0.17, 0.05), (-0.14, 0.01), (-0.13, 0.09), (-0.11, 0.07), (-0.10, -0.06), (-0.07, 0.04),
          (-0.06, 0.00), (-0.02, 0.08), (-0.01, 0.01), (0.02, 0.07), (0.04, 0.11), (0.06, 0.01),
          (0.08, 0.04), (0.09, 0.07), (0.10, 0.15), (0.12, 0.00), (0.14, 0.05), (0.15, -0.04),
          (0.17, 0.08), (0.18, 0.03), (0.20, 0.04), (0.21, 0.07), (0.23, 0.09), (0.25, 0.20),
          (0.26, 0.06), (0.28, 0.08), (0.30, 0.07), (0.03, 0.03), (0.07, 0.06), (0.11, 0.03),
          (0.13, 0.08), (0.16, 0.02), (0.19, 0.06), (0.22, 0.01), (0.27, 0.04), (-0.65, 0.00),
          (-0.55, 0.03), (-0.46, -0.02), (-0.40, 0.02), (-0.35, -0.02), (-0.32, 0.04), (-0.78, -0.02),
          (-0.73, 0.03), (-0.69, 0.06), (-0.63, 0.03), (-0.60, -0.04), (-0.57, 0.05), (-0.52, -0.01),
          (-0.48, 0.04), (-0.44, -0.05), (-0.38, 0.05), (-0.33, -0.04), (-0.29, 0.03), (-0.25, 0.00),
          (-0.21, 0.02), (-0.15, 0.04), (-0.12, 0.00), (-0.08, 0.06), (-0.04, 0.02), (0.00, 0.05),
          (0.05, 0.06), (0.09, 0.02), (0.12, 0.06), (0.17, 0.04), (0.24, 0.05), (0.29, 0.03)]

X_LIMITS = (-1.427, 0.308)
Y_LIMITS = (-0.2, 0.73)
GRAY = "#8a8a8a"


def to_frame(points):
    return pd.DataFrame(points, columns=["FeH", "ElFe"])


def tick_label(value, _pos):
    if abs(value) < 1e-9:
        value = 0.0
    return f"{value:.1f}".replace("-", "\u2212")


def draw_panel(ax, name, ref, filled, open_points, model=None, show_err=False):
    sns.scatterplot(data=to_frame(ref), x="FeH", y="ElFe", ax=ax, color=GRAY,
                    s=24, linewidth=0, zorder=2, legend=False)

    if model is not None:
        # flat plateau drawn finely dashed, the declining part solid
        sns.lineplot(x=MODEL_FEH[:2], y=model[:2], ax=ax, color="black", linewidth=1.1,
                     linestyle=(0, (3, 1)), estimator=None, sort=False, zorder=3)
        sns.lineplot(x=MODEL_FEH[1:], y=model[1:], ax=ax, color="black", linewidth=1.5,
                     estimator=None, sort=False, zorder=3)

    sns.scatterplot(data=to_frame(filled), x="FeH", y="ElFe", ax=ax, color="black",
                    s=165, linewidth=0, zorder=4, legend=False)
    sns.scatterplot(data=to_frame(open_points), x="FeH", y="ElFe", ax=ax, facecolor="white",
                    edgecolor="black", s=112, linewidth=2.5, zorder=5, legend=False)

    if show_err:
        ax.errorbar(ERR_FEH, ERR_EL, xerr=ERR_DFEH, yerr=ERR_DEL, color="#444444",
                    linewidth=0.9, capsize=2.5, capthick=0.9, zorder=6)

    ax.axhline(0.0, color="black", linewidth=1.0, linestyle=(0, (1, 3)), zorder=1)
    ax.axvline(0.0, color="black", linewidth=1.0, linestyle=(0, (1, 3)), zorder=1)

    ax.set_xlim(*X_LIMITS)
    ax.set_ylim(*Y_LIMITS)
    ax.xaxis.set_major_locator(MultipleLocator(0.2))
    ax.xaxis.set_minor_locator(MultipleLocator(0.05))
    ax.yaxis.set_major_locator(MultipleLocator(0.2))
    ax.yaxis.set_minor_locator(MultipleLocator(0.1))
    ax.xaxis.set_major_formatter(FuncFormatter(tick_label))
    ax.yaxis.set_major_formatter(FuncFormatter(tick_label))
    ax.tick_params(which="both", direction="in", top=True, right=True, width=1.0,
                   color="black", labelsize=13, labelcolor="black")
    ax.tick_params(which="major", length=7, pad=7)
    ax.tick_params(which="minor", length=3.5)
    for spine in ax.spines.values():
        spine.set_linewidth(1.1)
        spine.set_color("black")

    ax.set_xlabel("")
    ax.set_ylabel("")
    ax.text(0.078, 0.895, name, transform=ax.transAxes, fontsize=14,
            ha="center", va="center")


def main() -> None:
    sns.set_style("ticks")
    plt.rcParams["font.family"] = ["Liberation Serif", "DejaVu Serif"]
    plt.rcParams["axes.unicode_minus"] = True

    fig, axes = plt.subplots(6, 2, figsize=(12, 18.16), dpi=100, sharex=False, sharey=False)
    fig.subplots_adjust(left=0.065, right=0.995, top=0.99725, bottom=0.038, hspace=0, wspace=0)

    panels = [
        ("O", O_REF, O_FILLED, O_OPEN, MODEL_O, False),
        ("Na", NA_REF, NA_FILLED, NA_OPEN, None, True),
        ("Mg", MG_REF, MG_FILLED, MG_OPEN, MODEL_MG, False),
        ("Al", AL_REF, AL_FILLED, AL_OPEN, None, False),
        ("Si", SI_REF, SI_FILLED, SI_OPEN, MODEL_SI, False),
        ("Ca", CA_REF, CA_FILLED, CA_OPEN, MODEL_CA, False),
        ("Sc", SC_REF, SC_FILLED, SC_OPEN, None, False),
        ("Ti", TI_REF, TI_FILLED, TI_OPEN, MODEL_TI, False),
        ("V", V_REF, V_FILLED, V_OPEN, None, False),
        ("Cr", CR_REF, CR_FILLED, CR_OPEN, None, False),
        ("Co", CO_REF, CO_FILLED, CO_OPEN, None, False),
        ("Ni", NI_REF, NI_FILLED, NI_OPEN, None, False),
    ]

    for ax, (name, ref, filled, open_points, model, show_err) in zip(axes.flat, panels):
        draw_panel(ax, name, ref, filled, open_points, model, show_err)

    for row in range(6):
        left, right = axes[row, 0], axes[row, 1]
        right.tick_params(labelleft=False)
        left.set_ylabel("[El/Fe]", fontsize=14)
        left.yaxis.set_label_coords(-0.105, 0.5)
        if row < 5:
            left.tick_params(labelbottom=False)
            right.tick_params(labelbottom=False)

    for ax in axes[5]:
        ax.set_xlabel("[Fe/H]", fontsize=14)
        ax.xaxis.set_label_coords(0.5, -0.16)

    fig.savefig("out.png", dpi=100)
    plt.close(fig)


if __name__ == "__main__":
    main()
